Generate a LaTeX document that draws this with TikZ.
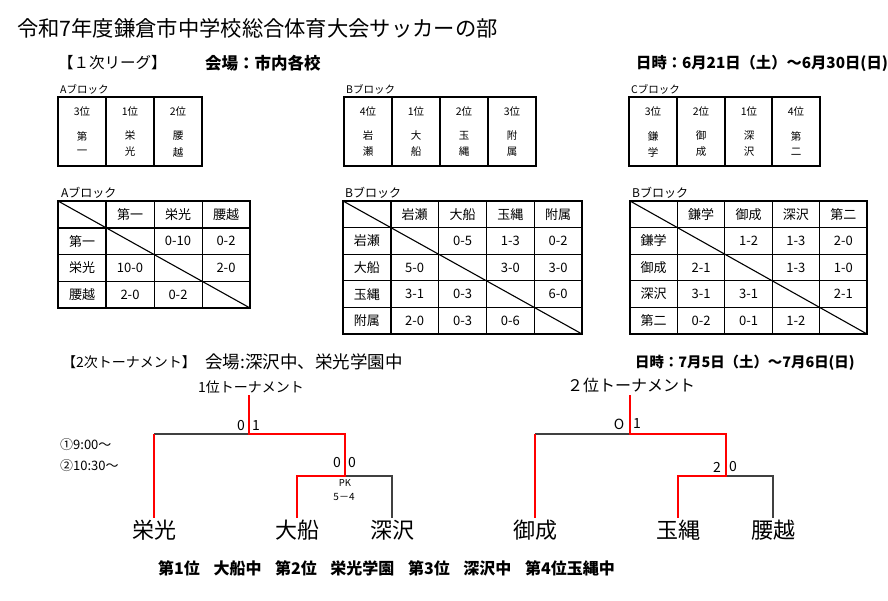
\documentclass[tikz,border=0pt]{standalone}
\usepackage{fontspec}
\setmainfont{Noto Sans CJK JP}
\usepackage{xcolor}

\tikzset{
    fs/.style={font=\fontsize{#1}{#1}\selectfont},
    bfs/.style={font=\bfseries\fontsize{#1}{#1}\selectfont},
    rank/.style={fs=10.5},
    cell/.style={fs=13},
    team/.style={fs=22,inner sep=2pt},
    score/.style={fs=14},
    tabout/.style={line width=1.8pt},
    tabin/.style={line width=0.8pt},
    win/.style={draw=red,line width=1.7pt},
    lose/.style={draw=black!75,line width=1.2pt}
}

\begin{document}
\begin{tikzpicture}[x=1pt,y=-1pt,inner sep=0pt]
    \useasboundingbox (0,0) rectangle (888,601);
    \clip (0,0) rectangle (888,601);

    \node[fs=21.3,anchor=west] (title) at (17,28) {令和7年度鎌倉市中学校総合体育大会サッカーの部};
    \node[fs=15.5,anchor=west] (league) at (58,63) {【１次リーグ】};
    \node[bfs=16.5,anchor=west] (venue1) at (205,63) {会場：市内各校};
    \node[bfs=15.3,anchor=west] (date1) at (636,63) {日時：6月21日（土）～6月30日(日)};

    % blocks
    \node[rank,anchor=west] (blkA) at (60,89) {Aブロック};
    \draw[tabout] (58,97) rectangle (202,166);
    \foreach \x in {106,154} \draw[tabout] (\x,97) -- (\x,166);
    \foreach \x/\rk/\ca/\cb [count=\i] in {82/3位/第/一,130/1位/栄/光,178/2位/腰/越}{
        \node[rank] (a\i r) at (\x,112) {\rk};
        \node[rank] (a\i p) at (\x,136) {\ca};
        \node[rank] (a\i q) at (\x,152) {\cb};
    }
    \node[rank,anchor=west] (blkB) at (346,89) {Bブロック};
    \draw[tabout] (344,97) rectangle (536,166);
    \foreach \x in {392,440,488} \draw[tabout] (\x,97) -- (\x,166);
    \foreach \x/\rk/\ca/\cb [count=\i] in {368/4位/岩/瀬,416/1位/大/船,464/2位/玉/縄,512/3位/附/属}{
        \node[rank] (b\i r) at (\x,112) {\rk};
        \node[rank] (b\i p) at (\x,136) {\ca};
        \node[rank] (b\i q) at (\x,152) {\cb};
    }
    \node[rank,anchor=west] (blkC) at (631,89) {Cブロック};
    \draw[tabout] (629,97) rectangle (820,166);
    \foreach \x in {677,725,772} \draw[tabout] (\x,97) -- (\x,166);
    \foreach \x/\rk/\ca/\cb [count=\i] in {653/3位/鎌/学,701/2位/御/成,749/1位/深/沢,796/4位/第/二}{
        \node[rank] (c\i r) at (\x,112) {\rk};
        \node[rank] (c\i p) at (\x,136) {\ca};
        \node[rank] (c\i q) at (\x,152) {\cb};
    }

    % league tables
    \node[fs=12,anchor=west] (tabA) at (61,193) {Aブロック};
    \begin{scope}[shift={(58,201)}]
        \foreach \y in {53.5,80.25} \draw[tabin] (0,\y) -- (192,\y);
        \foreach \x in {96,144} \draw[tabin] (\x,0) -- (\x,107);
        \draw[tabout] (0,0) rectangle (192,107) (0,26.75) -- (192,26.75) (48,0) -- (48,107);
        \draw[line width=1.1pt] (0,0) -- (192,107);
        \foreach \t [count=\i] in {第一,栄光,腰越}{
            \node[cell] (ah\i) at (\i*48+24,13.4) {\t};
            \node[cell] (av\i) at (24,\i*26.75+13.4) {\t};
        }
        \foreach \i/\j/\s in {1/2/0-10,1/3/0-2,2/1/10-0,2/3/2-0,3/1/2-0,3/2/0-2}
            \node[cell] (a\i\j) at (\j*48+24,\i*26.75+13.4) {\s};
    \end{scope}

    \node[fs=12,anchor=west] (tabB) at (345,193) {Bブロック};
    \begin{scope}[shift={(343,201)}]
        \foreach \y in {53.2,79.8,106.4} \draw[tabin] (0,\y) -- (239,\y);
        \foreach \x in {95.6,143.4,191.2} \draw[tabin] (\x,0) -- (\x,133);
        \draw[tabout] (0,0) rectangle (239,133) (0,26.6) -- (239,26.6) (47.8,0) -- (47.8,133);
        \draw[line width=1.1pt] (0,0) -- (239,133);
        \foreach \t [count=\i] in {岩瀬,大船,玉縄,附属}{
            \node[cell] (bh\i) at (\i*47.8+23.9,13.3) {\t};
            \node[cell] (bv\i) at (23.9,\i*26.6+13.3) {\t};
        }
        \foreach \i/\j/\s in {1/2/0-5,1/3/1-3,1/4/0-2,2/1/5-0,2/3/3-0,2/4/3-0,
                              3/1/3-1,3/2/0-3,3/4/6-0,4/1/2-0,4/2/0-3,4/3/0-6}
            \node[cell] (b\i\j) at (\j*47.8+23.9,\i*26.6+13.3) {\s};
    \end{scope}

    \node[fs=12,anchor=west] (tabC) at (632,193) {Bブロック};
    \begin{scope}[shift={(630,201)}]
        \foreach \y in {53.2,79.8,106.4} \draw[tabin] (0,\y) -- (237,\y);
        \foreach \x in {94.8,142.2,189.6} \draw[tabin] (\x,0) -- (\x,133);
        \draw[tabout] (0,0) rectangle (237,133) (0,26.6) -- (237,26.6) (47.4,0) -- (47.4,133);
        \draw[line width=1.1pt] (0,0) -- (237,133);
        \foreach \t [count=\i] in {鎌学,御成,深沢,第二}{
            \node[cell] (ch\i) at (\i*47.4+23.7,13.3) {\t};
            \node[cell] (cv\i) at (23.7,\i*26.6+13.3) {\t};
        }
        \foreach \i/\j/\s in {1/2/1-2,1/3/1-3,1/4/2-0,2/1/2-1,2/3/1-3,2/4/1-0,
                              3/1/3-1,3/2/3-1,3/4/2-1,4/1/0-2,4/2/0-1,4/3/1-2}
            \node[cell] (c\i\j) at (\j*47.4+23.7,\i*26.6+13.3) {\s};
    \end{scope}

    % tournament
    \node[fs=14,anchor=west] (tourn) at (62,362) {【2次トーナメント】};
    \node[fs=17.5,anchor=west] (venue2) at (205,362) {会場:深沢中、栄光学園中};
    \node[bfs=14.4,anchor=west] (date2) at (635,363) {日時：7月5日（土）～7月6日(日)};
    \node[fs=14,anchor=west] (first) at (198,387) {1位トーナメント};
    \node[fs=16,anchor=west] (second) at (567,385) {２位トーナメント};
    \node[fs=13,anchor=west] (time1) at (60,445) {①9:00～};
    \node[fs=13,anchor=west] (time2) at (60,466) {②10:30～};

    \node[team] (eiko) at (154,530) {栄光};
    \node[team] (ofuna) at (297,530) {大船};
    \node[team] (fuka) at (392,530) {深沢};
    \coordinate (top1) at (249,395);
    \coordinate (m1) at (249,434);
    \coordinate (l1) at (154,434);
    \coordinate (r1) at (345,434);
    \coordinate (m2) at (345,476);
    \coordinate (l2) at (297,476);
    \coordinate (r2) at (392,476);
    \draw[lose] (l1) -- (m1);
    \draw[lose] (m2) -- (r2) -- (fuka.north);
    \draw[win] (top1) -- (m1) -- (r1) -- (m2) -- (l2) -- (ofuna.north);
    \draw[win] (l1) -- (eiko.north);
    \node[score] (s11) at (241,426) {0};
    \node[score] (s12) at (256,426) {1};
    \node[score] (s21) at (337,463) {0};
    \node[score] (s22) at (352,463) {0};
    \node[fs=9.5] (pk) at (345,483) {PK};
    \node[fs=10] (pks) at (344,497) {5－4};

    \node[team] (onari) at (535,530) {御成};
    \node[team] (tama) at (678,530) {玉縄};
    \node[team] (koshi) at (773,530) {腰越};
    \coordinate (top2) at (630,395);
    \coordinate (n1) at (630,434);
    \coordinate (k1) at (535,434);
    \coordinate (q1) at (726,434);
    \coordinate (n2) at (726,476);
    \coordinate (k2) at (678,476);
    \coordinate (q2) at (773,476);
    \draw[lose] (k1) -- (n1);
    \draw[lose] (n2) -- (q2) -- (koshi.north);
    \draw[win] (top2) -- (n1) -- (q1) -- (n2) -- (k2) -- (tama.north);
    \draw[win] (k1) -- (onari.north);
    \node[score] (t11) at (619,424) {O};
    \node[score] (t12) at (637,424) {1};
    \node[score] (t21) at (717,467) {2};
    \node[score] (t22) at (733,467) {0};

    \node[bfs=16,anchor=west] (final) at (158,568) {第1位\hspace{0.85em}大船中\hspace{0.85em}第2位\hspace{0.85em}栄光学園\hspace{0.85em}第3位\hspace{0.85em}深沢中\hspace{0.85em}第4位玉縄中};
\end{tikzpicture}
\end{document}
